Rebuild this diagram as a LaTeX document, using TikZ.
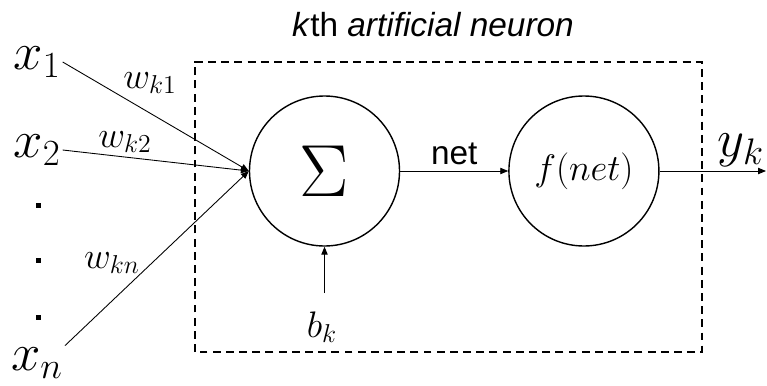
\RequirePackage{fix-cm}
\documentclass[tikz,border=0pt]{standalone}
\usepackage{fontspec}
\setmainfont{Liberation Sans}
\usepackage{tikz}
\usetikzlibrary{arrows.meta,positioning}

\begin{document}
\begin{tikzpicture}[
    node distance=2.16cm,
    neuron/.style={draw, circle, line width=0.8pt, minimum size=3cm, inner sep=0pt},
    invar/.style={font=\fontsize{30}{32}\selectfont, inner sep=1pt},
    weight/.style={font=\fontsize{21}{24}\selectfont, inner sep=1pt},
    dotmark/.style={fill, rectangle, minimum size=0.1cm, inner sep=0pt},
    wire/.style={-{Triangle[length=4.5pt,width=3.6pt]}, line width=0.5pt},
    cell/.style={dash pattern=on 4.5pt off 3pt, line width=0.8pt}
  ]
    \useasboundingbox (0,0) rectangle (15.34,7.7);

    % neuron body
    \node[neuron] (sum) at (6.49,4.28) {\fontsize{42}{44}\selectfont$\Sigma$};
    \node[neuron, right=of sum] (act) {\fontsize{21}{24}\selectfont$f(net)$};
    \draw[cell] (3.9,0.66) rectangle (14.04,6.46);
    \node[font=\fontsize{19}{21}\selectfont] (title) at (8.66,7.2) {\textit{k}th \textit{artificial neuron}};

    % inputs
    \node[invar] (x1) at (0.74,6.46) {$x_1$};
    \node[invar] (x2) at (0.74,4.7) {$x_2$};
    \node[invar] (xn) at (0.74,0.44) {$x_n$};
    \node[dotmark] (d1) at (0.76,3.6) {};
    \node[dotmark] (d2) at (0.76,2.5) {};
    \node[dotmark] (d3) at (0.76,1.36) {};

    \node[weight] (w1) at (3.0,6.04) {$w_{k1}$};
    \node[weight] (w2) at (2.5,4.86) {$w_{k2}$};
    \node[weight] (wn) at (2.24,2.44) {$w_{kn}$};

    \draw[wire] (x1.east) -- (sum.west);
    \draw[wire] (x2.east) -- (sum.west);
    \draw[wire] (xn.north east) -- (sum.west);

    % bias and output
    \node[weight] (bk) at (6.44,1.16) {$b_k$};
    \coordinate (bin) at (6.49,1.84);
    \draw[wire] (bin) -- (sum.south);

    \draw[wire] (sum) -- node[above, font=\fontsize{19}{22}\selectfont] (netlab) {net} (act);

    \node[invar] (yk) at (14.82,4.7) {$y_k$};
    \coordinate (out) at (15.32,4.28);
    \draw[wire] (act) -- (out);
  \end{tikzpicture}
\end{document}
